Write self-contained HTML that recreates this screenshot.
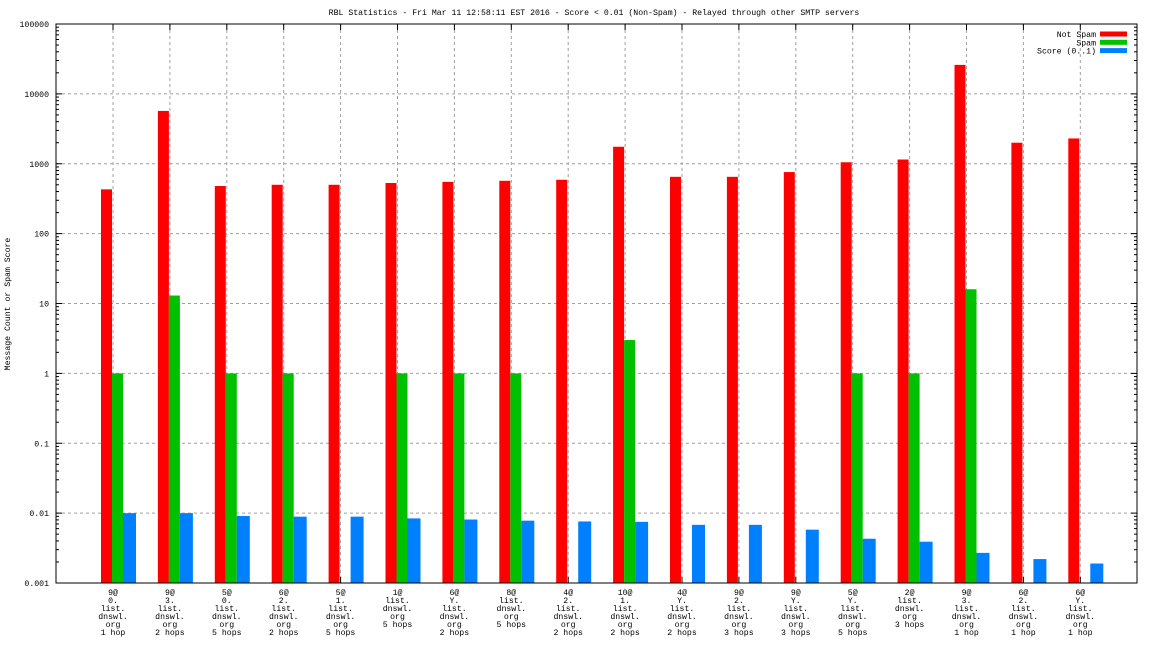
<!DOCTYPE html>
<html><head><meta charset="utf-8"><style>
html,body{margin:0;padding:0;background:#fff;width:1152px;height:648px;overflow:hidden}
svg text{font-family:"Liberation Mono",monospace;font-size:8.2px;fill:#000}
</style></head><body>
<svg id="chart" width="1152" height="648" xmlns="http://www.w3.org/2000/svg"></svg>
<script>
const categories=[
["9@","0.","list.","dnswl.","org","1 hop"],
["9@","3.","list.","dnswl.","org","2 hops"],
["5@","0.","list.","dnswl.","org","5 hops"],
["6@","2.","list.","dnswl.","org","2 hops"],
["5@","1.","list.","dnswl.","org","5 hops"],
["1@","list.","dnswl.","org","5 hops"],
["6@","Y.","list.","dnswl.","org","2 hops"],
["8@","list.","dnswl.","org","5 hops"],
["4@","2.","list.","dnswl.","org","2 hops"],
["10@","1.","list.","dnswl.","org","2 hops"],
["4@","Y.","list.","dnswl.","org","2 hops"],
["9@","2.","list.","dnswl.","org","3 hops"],
["9@","Y.","list.","dnswl.","org","3 hops"],
["5@","Y.","list.","dnswl.","org","5 hops"],
["2@","list.","dnswl.","org","3 hops"],
["9@","3.","list.","dnswl.","org","1 hop"],
["6@","2.","list.","dnswl.","org","1 hop"],
["6@","Y.","list.","dnswl.","org","1 hop"]];
const notSpam=[430,5700,480,500,500,530,550,570,590,1750,650,650,760,1050,1150,26000,2000,2300];
const spam=[1,13,1,1,0,1,1,1,0,3,0,0,0,1,1,16,0,0];
const score=[0.01,0.01,0.0091,0.0089,0.0089,0.0084,0.0081,0.0078,0.0076,0.0075,0.0068,0.0068,0.0058,0.0043,0.0039,0.0027,0.0022,0.0019];
const yTicks=[0.001,0.01,0.1,1,10,100,1000,10000,100000];
const yTickLabels=["0.001","0.01","0.1","1","10","100","1000","10000","100000"];

const NS="http://www.w3.org/2000/svg";
const svg=document.getElementById('chart');
const L=56,R=1137,T=24,B=583;
const y=v=>B-(Math.log10(v)+3)/8*(B-T);
const xc=i=>113+i*56.9;
function mk(tag,attrs,parent){const e=document.createElementNS(NS,tag);for(const k in attrs)e.setAttribute(k,attrs[k]);(parent||svg).appendChild(e);return e;}

yTicks.forEach((v,i)=>{
  if(i>0&&i<yTicks.length-1){const g=mk('line',{x1:L,x2:R,y1:y(v),y2:y(v),stroke:'#a0a0a0','stroke-dasharray':'3,3'});
  
  }
  const t=mk('text',{x:49,y:y(v)+3,'text-anchor':'end'});t.textContent=yTickLabels[i];
  
  
  mk('line',{x1:L,x2:L+6,y1:y(v),y2:y(v),stroke:'#000'});
  mk('line',{x1:R,x2:R-6,y1:y(v),y2:y(v),stroke:'#000'});
  if(i<yTicks.length-1)[2,3,4,5,6,7,8,9].forEach(m=>{const yy=y(v*m);
    mk('line',{x1:L,x2:L+3,y1:yy,y2:yy,stroke:'#000'});mk('line',{x1:R,x2:R-3,y1:yy,y2:yy,stroke:'#000'});});
});
categories.forEach((c,i)=>{
  const g=mk('line',{x1:xc(i),x2:xc(i),y1:T,y2:B,stroke:'#a0a0a0','stroke-dasharray':'3,3'});
  
  
  mk('line',{x1:xc(i),x2:xc(i),y1:T,y2:T+6,stroke:'#000'});
  mk('line',{x1:xc(i),x2:xc(i),y1:B,y2:B-6,stroke:'#000'});
  c.forEach((ln,j)=>{const t=mk('text',{x:xc(i),y:595+j*8,'text-anchor':'middle'});t.textContent=ln;
    
    });
});
function bar(v,x0,x1,col,name){if(!v)return;const r=mk('rect',{x:x0,y:y(v),width:x1-x0,height:B-y(v),fill:col});
  
  }
categories.forEach((c,i)=>{
  bar(notSpam[i],xc(i)-12,xc(i)-1,'#ff0000','bar-not-spam');
  bar(spam[i],xc(i)-1,xc(i)+10,'#00c000','bar-spam');
  bar(score[i],xc(i)+10,xc(i)+23,'#0080ff','bar-score');
});
const f=mk('rect',{x:L,y:T,width:R-L,height:B-T,fill:'none',stroke:'#000'});


const tt=mk('text',{x:594,y:15,'text-anchor':'middle'});
tt.textContent='RBL Statistics - Fri Mar 11 12:58:11 EST 2016 - Score < 0.01 (Non-Spam) - Relayed through other SMTP servers';


const yt=mk('text',{x:10,y:304,'text-anchor':'middle',transform:'rotate(-90 10 304)'});
yt.textContent='Message Count or Spam Score';


[['Not Spam','#ff0000'],['Spam','#00c000'],['Score (0..1)','#0080ff']].forEach((l,i)=>{
  const g=mk('g',{});
  
  
  const t=mk('text',{x:1096,y:37+i*8.3,'text-anchor':'end'},g);t.textContent=l[0];
  mk('rect',{x:1100,y:31.5+i*8.3,width:27,height:5,fill:l[1]},g);
});
</script>
</body></html>
